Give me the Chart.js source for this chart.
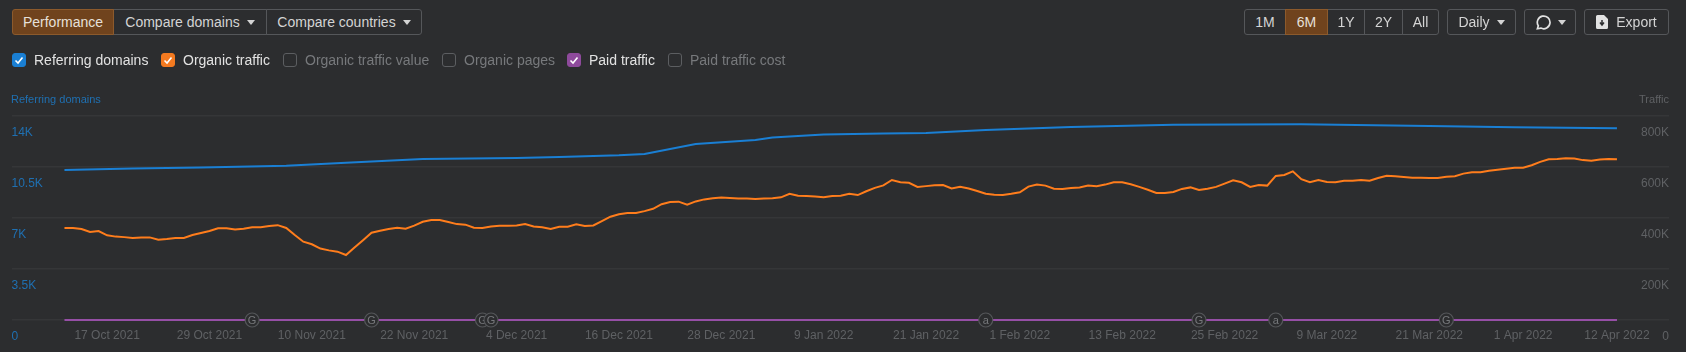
<!DOCTYPE html>
<html>
<head>
<meta charset="utf-8">
<script src="https://cdn.jsdelivr.net/npm/chart.js@4"></script>
<style>
  html, body { margin: 0; padding: 0; width: 1686px; height: 352px; overflow: hidden; background: #2c2d2f; font-family: "Liberation Sans", Arial, sans-serif; }
  canvas { position: absolute; left: 0; top: 0; }
  .btn { position: absolute; top: 9px; height: 26px; box-sizing: border-box; border: 1px solid #55575a; color: #d4d4d4; font-size: 14px; line-height: 24px; text-align: center; background: #2c2d2f; }
  .on { background: #70431d; border-color: #8c5a2c; color: #e6e0da; z-index: 2; }
  .l { border-radius: 3px 0 0 3px; }
  .r { border-radius: 0 3px 3px 0; }
  .a { border-radius: 3px; }
  .caret { display: inline-block; width: 0; height: 0; border-left: 4px solid transparent; border-right: 4px solid transparent; border-top: 5px solid #d4d4d4; margin-left: 7px; vertical-align: 2px; }
  .box { position: absolute; top: 53px; width: 14px; height: 14px; box-sizing: border-box; border: 1px solid #5c5e61; border-radius: 3px; }
  .box svg { position: absolute; left: -1px; top: -1px; }
  .lbl { position: absolute; top: 52px; font-size: 14px; line-height: 16px; white-space: nowrap; color: #e2e2e2; }
  .off { color: #77797c; }
  .cap { position: absolute; top: 93px; font-size: 11px; line-height: 13px; }
</style>
</head>
<body>
<canvas id="chart" width="1686" height="352"></canvas>

<div class="btn l on" style="left:12px;width:102px">Performance</div>
<div class="btn" style="left:113px;width:154px">Compare domains<i class="caret"></i></div>
<div class="btn r" style="left:266px;width:156px">Compare countries<i class="caret"></i></div>

<div class="box" style="left:12px;background:#1a7fd4;border-color:#1a7fd4"><svg width="14" height="14"><path d="M3.5 7.5l2.5 2.5 4.5-5.5" fill="none" stroke="#fff" stroke-width="1.6"/></svg></div>
<div class="lbl" style="left:34px">Referring domains</div>
<div class="box" style="left:161px;background:#f47a20;border-color:#f47a20"><svg width="14" height="14"><path d="M3.5 7.5l2.5 2.5 4.5-5.5" fill="none" stroke="#fff" stroke-width="1.6"/></svg></div>
<div class="lbl" style="left:183px">Organic traffic</div>
<div class="box" style="left:283px"></div>
<div class="lbl off" style="left:305px">Organic traffic value</div>
<div class="box" style="left:442px"></div>
<div class="lbl off" style="left:464px">Organic pages</div>
<div class="box" style="left:567px;background:#8e4a9c;border-color:#8e4a9c"><svg width="14" height="14"><path d="M3.5 7.5l2.5 2.5 4.5-5.5" fill="none" stroke="#fff" stroke-width="1.6"/></svg></div>
<div class="lbl" style="left:589px">Paid traffic</div>
<div class="box" style="left:668px"></div>
<div class="lbl off" style="left:690px">Paid traffic cost</div>

<div class="btn l" style="left:1244px;width:42px">1M</div>
<div class="btn on" style="left:1285px;width:43px">6M</div>
<div class="btn" style="left:1327px;width:38px">1Y</div>
<div class="btn" style="left:1364px;width:39px">2Y</div>
<div class="btn r" style="left:1402px;width:37px">All</div>
<div class="btn a" style="left:1447px;width:69px">Daily<i class="caret"></i></div>
<div class="btn a" style="left:1524px;width:52px"><svg width="17" height="17" viewBox="0 0 15 15" style="vertical-align:-4px"><path d="M3 13l.8-2.6A5.6 5.6 0 1 1 6 12.4z" fill="none" stroke="#e2e2e2" stroke-width="1.5"/></svg><i class="caret"></i></div>
<div class="btn a" style="left:1584px;width:85px"><svg width="12" height="14" viewBox="0 0 12 14" style="vertical-align:-2px;margin-right:8px"><path d="M1.5 0H8l4 4v8.5a1.5 1.5 0 0 1-1.5 1.5h-9A1.5 1.5 0 0 1 0 12.5v-11A1.5 1.5 0 0 1 1.5 0z" fill="#e2e2e2"/><path d="M6 5v4M4 7.5L6 10l2-2.5" fill="none" stroke="#2c2d2f" stroke-width="1.5"/></svg>Export</div>

<div class="cap" style="left:11px;color:#1f70b2">Referring domains</div>
<div class="cap" style="right:17px;color:#5f6164">Traffic</div>

<script>
// thousands of visits, one reading per day from 12 Oct 2021
const organicTraffic = [
  361, 361, 357, 345, 349, 332, 327, 325, 322, 324,
  324, 315, 318, 322, 322, 333, 341, 349, 360, 360,
  355, 358, 364, 364, 369, 372, 361, 333, 307, 297,
  280, 273, 268, 255, 284, 313, 342, 350, 357, 362,
  358, 370, 385, 392, 392, 384, 376, 374, 362, 361,
  367, 370, 370, 371, 376, 367, 364, 357, 366, 366,
  375, 369, 371, 388, 405, 415, 420, 420, 427, 436,
  454, 463, 464, 452, 465, 473, 477, 480, 478, 476,
  476, 475, 476, 477, 481, 495, 487, 486, 484, 481,
  486, 487, 495, 490, 505, 518, 528, 549, 540, 538,
  522, 525, 528, 529, 516, 522, 516, 506, 495, 491,
  490, 495, 501, 523, 531, 527, 515, 514, 518, 520,
  527, 525, 531, 540, 540, 532, 522, 511, 498, 498,
  502, 514, 520, 510, 515, 522, 535, 548, 540, 522,
  529, 527, 565, 569, 583, 552, 540, 549, 541, 540,
  546, 546, 549, 546, 557, 566, 564, 561, 558, 558,
  557, 557, 562, 564, 574, 579, 579, 585, 589, 593,
  597, 597, 607, 620, 630, 631, 634, 633, 627, 625,
  629, 631, 630
];

const domainDays = [0, 8, 16, 26, 33, 42, 53, 58, 65, 68, 74, 81, 83, 89, 96, 101, 108, 118, 130, 145, 160, 170, 182];
const referringDomains = [10294, 10390, 10459, 10590, 10796, 11049, 11118, 11187, 11303, 11393, 12079, 12353, 12518, 12731, 12800, 12834, 13040, 13245, 13397, 13431, 13314, 13225, 13156];

const paidDays = [0, 182];
const paidTraffic = [0, 0];

const tickDays = [5, 17, 29, 41, 53, 65, 77, 89, 101, 112, 124, 136, 148, 160, 171, 182];
const tickLabels = ["17 Oct 2021", "29 Oct 2021", "10 Nov 2021", "22 Nov 2021", "4 Dec 2021", "16 Dec 2021", "28 Dec 2021", "9 Jan 2022", "21 Jan 2022", "1 Feb 2022", "13 Feb 2022", "25 Feb 2022", "9 Mar 2022", "21 Mar 2022", "1 Apr 2022", "12 Apr 2022"];

const eventDays = [22, 36, 49, 50, 108, 133, 142, 162];
const eventLetters = ["G", "G", "G", "G", "a", "G", "a", "G"];

const eventMarkers = {
  id: "eventMarkers",
  afterDatasetsDraw(chart) {
    const ctx = chart.ctx;
    const x = chart.scales.x;
    const y = chart.scales.yTraffic;
    eventDays.forEach((day, i) => {
      const px = x.getPixelForValue(day);
      const py = y.getPixelForValue(0);
      ctx.save();
      ctx.beginPath();
      ctx.arc(px, py, 7, 0, Math.PI * 2);
      ctx.fillStyle = "#2c2d2f";
      ctx.fill();
      ctx.lineWidth = 1.2;
      ctx.strokeStyle = "#55575a";
      ctx.stroke();
      ctx.fillStyle = "#77797c";
      ctx.font = "11px 'Liberation Sans'";
      ctx.textAlign = "center";
      ctx.textBaseline = "middle";
      ctx.fillText(eventLetters[i], px, py + 0.5);
      ctx.restore();
    });
  },
};

new Chart(document.getElementById("chart").getContext("2d"), {
  type: "line",
  data: {
    datasets: [
      {
        label: "Referring domains",
        data: referringDomains.map((v, i) => ({ x: domainDays[i], y: v })),
        borderColor: "#1a7fd4",
        yAxisID: "yDomains",
      },
      {
        label: "Paid traffic",
        data: paidTraffic.map((v, i) => ({ x: paidDays[i], y: v })),
        borderColor: "#964fa6",
        yAxisID: "yTraffic",
      },
      {
        label: "Organic traffic",
        data: organicTraffic.map((v, i) => ({ x: i, y: v })),
        borderColor: "#ff7d1c",
        yAxisID: "yTraffic",
      },
    ],
  },
  options: {
    responsive: false,
    animation: false,
    layout: { padding: { left: 11.5, right: 17, top: 116, bottom: 0 } },
    elements: {
      point: { radius: 0 },
      line: { borderWidth: 2, tension: 0 },
    },
    datasets: { line: { clip: false } },
    plugins: { legend: { display: false }, tooltip: { enabled: false } },
    scales: {
      x: {
        type: "linear",
        min: -6.21,
        max: 188.1,
        grid: { display: false },
        border: { display: false },
        afterBuildTicks: (axis) => {
          axis.ticks = tickDays.map((d) => ({ value: d }));
        },
        afterFit: (axis) => {
          axis.height = 32;
        },
        ticks: {
          autoSkip: false,
          maxRotation: 0,
          padding: 0,
          color: "#5f6164",
          font: { family: "Liberation Sans", size: 12 },
          callback: (v) => tickLabels[tickDays.indexOf(v)],
        },
      },
      yDomains: {
        position: "left",
        min: 0,
        max: 14000,
        grid: { color: "#353638", lineWidth: 1.5, drawTicks: false },
        border: { display: false },
        afterFit: (axis) => {
          axis.width = 0;
        },
        ticks: {
          stepSize: 3500,
          mirror: true,
          padding: 0,
          labelOffset: 16.5,
          color: "#1f70b2",
          font: { family: "Liberation Sans", size: 12 },
          callback: (v) => (v === 0 ? "0" : v / 1000 + "K"),
        },
      },
      yTraffic: {
        position: "right",
        min: 0,
        max: 800,
        grid: { display: false, drawTicks: false },
        border: { display: false },
        afterFit: (axis) => {
          axis.width = 0;
        },
        ticks: {
          stepSize: 200,
          mirror: true,
          padding: 0,
          labelOffset: 16.5,
          color: "#5f6164",
          font: { family: "Liberation Sans", size: 12 },
          callback: (v) => (v === 0 ? "0" : v + "K"),
        },
      },
    },
  },
  plugins: [eventMarkers],
});
</script>
</body>
</html>
